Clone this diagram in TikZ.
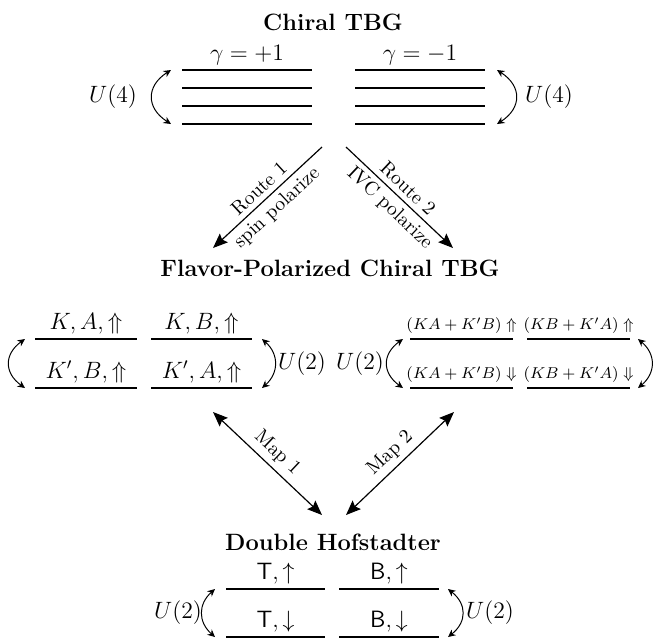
\documentclass[12pt,tikz,border=0pt]{standalone}
\usepackage{amsmath}
\usetikzlibrary{arrows.meta}
\begin{document}
\begin{tikzpicture}[x=0.508pt,y=-0.508pt,
  level/.style={line width=0.8pt},
  sym/.style={line width=0.5pt,{Stealth[length=3.8pt,width=3.6pt]}-{Stealth[length=3.8pt,width=3.6pt]}},
  route/.style={line width=0.6pt,-{Stealth[length=7.5pt,width=6pt,inset=1.2pt]}},
  mapar/.style={line width=0.6pt,{Stealth[length=7.5pt,width=6pt,inset=1.2pt]}-{Stealth[length=7.5pt,width=6pt,inset=1.2pt]}},
  lbl/.style={above,inner sep=2.5pt},
  small lbl/.style={above,inner sep=2.5pt,font=\fontsize{8.2}{10}\selectfont},
  arlbl/.style={pos=0.5,sloped,inner sep=2.5pt,font=\fontsize{10}{12}\selectfont},
  ttl/.style={font=\bfseries,anchor=base},
  grp/.style={inner sep=0pt}]
\useasboundingbox (0,0) rectangle (653,639);

% ---------- Top: Chiral TBG ----------
\node[ttl] (t1) at (333,30) {Chiral TBG};
\foreach \y [count=\i] in {70,88,106,124}{
  \coordinate (tl\i a) at (182,\y); \coordinate (tl\i b) at (312,\y);
  \coordinate (tr\i a) at (355,\y); \coordinate (tr\i b) at (485,\y);
  \draw[level] (tl\i a) -- (tl\i b);
  \draw[level] (tr\i a) -- (tr\i b);
}
\node[lbl] (gp) at (247,70) {$\gamma=+1$};
\node[lbl] (gm) at (420,70) {$\gamma=-1$};
\coordinate (ta1) at (171,70); \coordinate (ta2) at (171,124);
\coordinate (tb1) at (497,70); \coordinate (tb2) at (497,124);
\draw[sym] (ta1) .. controls (146,86) and (146,108) .. (ta2);
\draw[sym] (tb1) .. controls (522,86) and (522,108) .. (tb2);
\node[grp] (u4l) at (113,97) {$U(4)$};
\node[grp] (u4r) at (549,97) {$U(4)$};

% ---------- Routes ----------
\coordinate (r1s) at (322,147); \coordinate (r1e) at (213,248);
\coordinate (r2s) at (346,147); \coordinate (r2e) at (453,248);
\draw[route] (r1s) -- node[arlbl,above]{Route 1}
                      node[arlbl,below]{spin polarize} (r1e);
\draw[route] (r2s) -- node[arlbl,above]{Route 2}
                      node[arlbl,below]{IVC polarize} (r2e);

% ---------- Middle: Flavor-Polarized ----------
\node[ttl] (t2) at (330,276) {Flavor-Polarized Chiral TBG};
\foreach \y/\n in {339/1,388/2}{
  \draw[level] (35,\y) coordinate (ml\n a) -- (137,\y) coordinate (ml\n b);
  \draw[level] (151,\y) coordinate (ml\n c) -- (252,\y) coordinate (ml\n d);
  \draw[level] (410,\y) coordinate (mr\n a) -- (513,\y) coordinate (mr\n b);
  \draw[level] (527,\y) coordinate (mr\n c) -- (630,\y) coordinate (mr\n d);
}
\node[lbl] (m11) at (86,339) {$K,A,\Uparrow$};
\node[lbl] (m12) at (201.5,339) {$K,B,\Uparrow$};
\node[lbl] (m21) at (86,388) {$K',B,\Uparrow$};
\node[lbl] (m22) at (201.5,388) {$K',A,\Uparrow$};
\node[small lbl] (n11) at (461.5,339) {$(KA+K'B)\Uparrow$};
\node[small lbl] (n12) at (578.5,339) {$(KB+K'A)\Uparrow$};
\node[small lbl] (n21) at (461.5,388) {$(KA+K'B)\Downarrow$};
\node[small lbl] (n22) at (578.5,388) {$(KB+K'A)\Downarrow$};
\coordinate (ma1) at (25,339);  \coordinate (ma2) at (25,388);
\coordinate (mb1) at (262,339); \coordinate (mb2) at (262,388);
\coordinate (mc1) at (403,339); \coordinate (mc2) at (403,388);
\coordinate (md1) at (638,339); \coordinate (md2) at (638,388);
\draw[sym] (ma1) .. controls (4,354) and (4,373) .. (ma2);
\draw[sym] (mb1) .. controls (279,354) and (279,373) .. (mb2);
\draw[sym] (mc1) .. controls (382,354) and (382,373) .. (mc2);
\draw[sym] (md1) .. controls (656,354) and (656,373) .. (md2);
\node[grp] (u2a) at (302,364) {$U(2)$};
\node[grp] (u2b) at (360,364) {$U(2)$};

% ---------- Maps ----------
\coordinate (p1a) at (213,412); \coordinate (p1b) at (322,515);
\coordinate (p2a) at (454,412); \coordinate (p2b) at (346,515);
\draw[mapar] (p1a) -- node[arlbl,above]{Map 1} (p1b);
\draw[mapar] (p2b) -- node[arlbl,above]{Map 2} (p2a);

% ---------- Bottom: Double Hofstadter ----------
\node[ttl] (t3) at (333,550) {Double Hofstadter};
\foreach \y/\n in {589/1,637/2}{
  \draw[level] (226,\y) coordinate (bl\n a) -- (325,\y) coordinate (bl\n b);
  \draw[level] (339,\y) coordinate (bl\n c) -- (439,\y) coordinate (bl\n d);
}
\node[lbl] (b11) at (275.5,589) {$\mathsf{T},\uparrow$};
\node[lbl] (b12) at (389,589) {$\mathsf{B},\uparrow$};
\node[lbl] (b21) at (275.5,637) {$\mathsf{T},\downarrow$};
\node[lbl] (b22) at (389,637) {$\mathsf{B},\downarrow$};
\coordinate (ba1) at (215,589); \coordinate (ba2) at (215,637);
\coordinate (bb1) at (448,589); \coordinate (bb2) at (448,637);
\draw[sym] (ba1) .. controls (198,604) and (198,622) .. (ba2);
\draw[sym] (bb1) .. controls (467,604) and (467,622) .. (bb2);
\node[grp] (u2c) at (178,613) {$U(2)$};
\node[grp] (u2d) at (490,613) {$U(2)$};
\end{tikzpicture}
\end{document}
